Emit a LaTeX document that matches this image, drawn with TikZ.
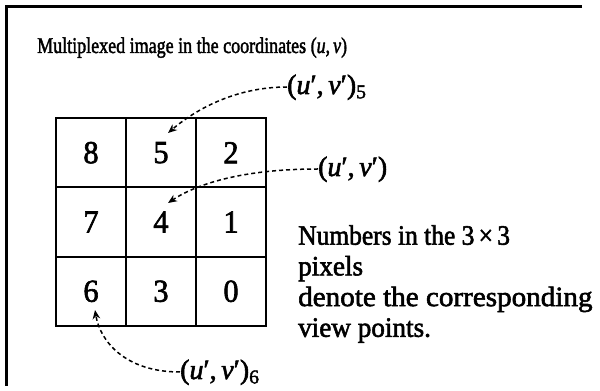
\documentclass[tikz,border=0pt]{standalone}
\usepackage{fontspec}
\usepackage{graphicx}
\setmainfont[UprightFeatures={FakeBold=2},ItalicFeatures={FakeBold=2}]{Liberation Serif}
\usetikzlibrary{arrows.meta}
\newcommand\sx[2]{\scalebox{#1}[1.0]{#2}}
\newcommand\uvp{(\textit{u}′,\,\textit{v}′)}
\tikzset{
  cell/.style={draw, line width=2pt, minimum width=70pt, minimum height=69.33pt, inner sep=0pt,
    font=\fontsize{32}{36}\selectfont},
  lbl/.style={inner sep=0pt, font=\fontsize{28}{30}\selectfont},
  dconn/.style={line width=1.5pt, dash pattern=on 4pt off 3pt, -{Stealth[length=9pt,width=7.5pt]}},
}
\begin{document}
\begin{tikzpicture}[x=1pt,y=1pt]
\useasboundingbox (0,0) rectangle (600,391);
% frame
\draw[line width=2.5pt] (582,384.5) -- (6.5,384.5) -- (6.5,5);
% title
\node[inner sep=0pt, anchor=base west, font=\fontsize{22.5}{25}\selectfont] (title) at (37,338)
  {\sx{0.8}{Multiplexed image in the coordinates (\textit{u},\,\textit{v})}};
% grid
\node[cell] (c8) at (91,238.3) {\sx{0.95}{8}};
\node[cell] (c5) at (161,238.3) {\sx{0.95}{5}};
\node[cell] (c2) at (231,238.3) {\sx{0.95}{2}};
\node[cell] (c7) at (91,169) {\sx{0.95}{7}};
\node[cell] (c4) at (161,169) {\sx{0.95}{4}};
\node[cell] (c1) at (231,169) {\sx{0.95}{1}};
\node[cell] (c6) at (91,99.7) {\sx{0.95}{6}};
\node[cell] (c3) at (161,99.7) {\sx{0.95}{3}};
\node[cell] (c0) at (231,99.7) {\sx{0.95}{0}};
% labels
\node[lbl, anchor=base west] (l5) at (287,297) {\uvp\textsubscript{5}};
\node[lbl, anchor=base west] (lp) at (318,215) {\uvp};
\node[lbl, anchor=base west] (l6) at (180,12) {\uvp\textsubscript{6}};
\coordinate (t5) at (168,258);
\coordinate (t4) at (168,188);
\coordinate (t6) at (95,81);
\draw[dconn] ([yshift=7pt]l5.base west) .. controls (235,304) and (195,281) .. (t5);
\draw[dconn] ([yshift=7pt]lp.base west) .. controls (240,222) and (195,206) .. (t4);
\draw[dconn] ([yshift=7pt]l6.base west) .. controls (125,19) and (100,50) .. (t6);
% note
\node[inner sep=0pt, anchor=north west, font=\fontsize{28}{30.7}\selectfont] (note) at (298,168)
  {\begin{tabular}{@{}l@{}}\sx{0.91}{Numbers in the 3\,×\,3}\\ \sx{0.97}{pixels}\\ \sx{1.04}{denote the corresponding}\\ \sx{0.97}{view points.}\end{tabular}};
\end{tikzpicture}
\end{document}
